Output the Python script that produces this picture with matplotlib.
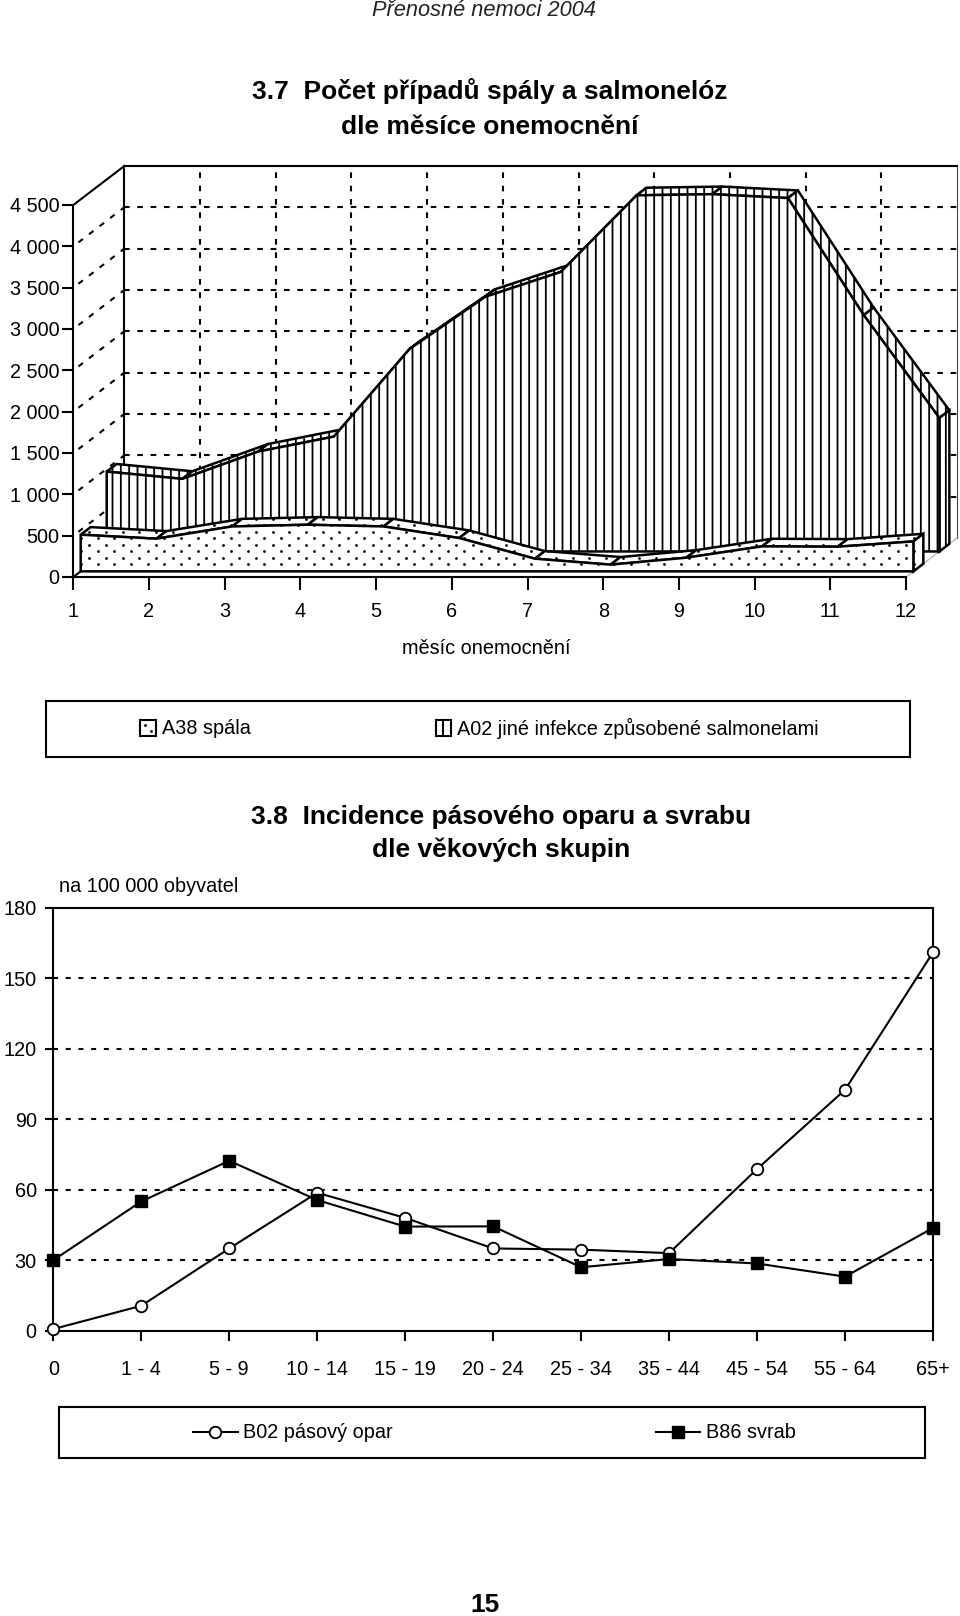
# -*- coding: utf-8 -*-
import numpy as np
import matplotlib
matplotlib.use("Agg")
import matplotlib.pyplot as plt
from matplotlib.patches import Polygon, Rectangle

plt.rcParams['font.family'] = ['Liberation Sans', 'DejaVu Sans']
plt.rcParams['hatch.linewidth'] = 1.3

W, H = 960, 1616

# 3.7 - monthly cases
months = [1, 2, 3, 4, 5, 6, 7, 8, 9, 10, 11, 12]
a38_spala = [443, 395, 543, 564, 543, 403, 153, 81, 165, 302, 298, 362]
a02_salmonely = [966, 878, 1208, 1389, 2448, 3080, 3382, 4308, 4322, 4275, 2859, 1615]
y_ticks_3d = [0, 500, 1000, 1500, 2000, 2500, 3000, 3500, 4000, 4500]

# 3.8 - incidence by age group
age_groups = ['0', '1 - 4', '5 - 9', '10 - 14', '15 - 19', '20 - 24', '25 - 34', '35 - 44', '45 - 54', '55 - 64', '65+']
b02_opar = [0.7, 10.6, 35, 58.7, 48, 35, 34.5, 33, 68.8, 102.5, 161]
b86_svrab = [30, 55, 72.3, 55.6, 44.3, 44.4, 27, 30.5, 28.6, 23, 43.7]
y_ticks_2 = [0, 30, 60, 90, 120, 150, 180]

LW = 1.5
LW_FACE = 1.8
FS = 14.3
TITLE_FS = 19


def pos(x0, x1, y0, y1):
    # pixel box -> figure fractions, y measured from the top of the page
    return [x0 / W, 1 - y1 / H, (x1 - x0) / W, (y1 - y0) / H]


fig = plt.figure(figsize=(W / 100, H / 100), dpi=100, facecolor='white')

# page level things: titles, legend boxes
page = fig.add_axes([0, 0, 1, 1])
page.set_xlim(0, W)
page.set_ylim(H, 0)
page.axis('off')

page.text(484.5, 10, 'Přenosné nemoci 2004', ha='center', va='center', style='italic', fontsize=15.7, color='#222222')
page.text(489.5, 90.5, '3.7  Počet případů spály a salmonelóz', ha='center', va='center', weight='bold', fontsize=TITLE_FS)
page.text(489.5, 127, 'dle měsíce onemocnění', ha='center', va='center', weight='bold', fontsize=TITLE_FS)
page.text(501, 817, '3.8  Incidence pásového oparu a svrabu', ha='center', va='center', weight='bold', fontsize=TITLE_FS)
page.text(501, 850, 'dle věkových skupin', ha='center', va='center', weight='bold', fontsize=TITLE_FS)
page.text(59, 887, 'na 100 000 obyvatel', ha='left', va='center', fontsize=FS)
page.text(486, 649, 'měsíc onemocnění', ha='center', va='center', fontsize=FS)
page.text(485, 1605, '15', ha='center', va='center', weight='bold', fontsize=TITLE_FS)

page.add_patch(Rectangle((45.5, 701), 864, 55.5, fc='white', ec='black', lw=LW))
page.add_patch(Rectangle((140, 720), 15.5, 15.5, fc='white', ec='black', lw=LW))
page.plot([144.5, 151], [725, 731], ls='none', marker='o', ms=2, mew=0, color='black')
page.text(162, 728, 'A38 spála', ha='left', va='center', fontsize=FS)
page.add_patch(Rectangle((435.5, 720), 15.5, 15.5, fc='white', ec='black', lw=LW))
page.plot([443.2, 443.2], [720, 735.5], color='black', lw=LW)
page.text(457, 728, 'A02 jiné infekce způsobené salmonelami', ha='left', va='center', fontsize=FS)

page.add_patch(Rectangle((59, 1407), 866, 51, fc='white', ec='black', lw=LW))
page.plot([193, 238], [1432, 1432], color='black', lw=LW, zorder=3)
page.plot([215], [1432], color='black', marker='o', ms=8.3, mfc='white', mew=1.3, zorder=4)
page.text(243, 1432, 'B02 pásový opar', ha='left', va='center', fontsize=FS)
page.plot([656, 700], [1432, 1432], color='black', lw=LW, zorder=3)
page.plot([678], [1432], color='black', marker='s', ms=9, zorder=4)
page.text(706, 1432, 'B86 svrab', ha='left', va='center', fontsize=FS)

# ---- chart 3.7, pseudo 3D ----
ax = fig.add_axes(pos(73.3, 906, 205, 577))
ax.patch.set_alpha(0)
ax.set_xlim(months[0], months[-1])
ax.set_ylim(y_ticks_3d[0], y_ticks_3d[-1])
for s in ['top', 'right']:
    ax.spines[s].set_visible(False)
for s in ['left', 'bottom']:
    ax.spines[s].set_linewidth(LW)
ax.set_xticks(months)
ax.set_yticks(y_ticks_3d)
ax.set_yticklabels([f'{v:,}'.replace(',', ' ') for v in y_ticks_3d])
ax.tick_params(axis='x', length=9, width=LW, pad=9, labelsize=FS)
ax.tick_params(axis='y', length=8, width=LW, pad=2, labelsize=FS)

# one unit of depth = shift of the back wall against the front axes
PX_X = 832.7 / 11
PX_Y = 372 / 4500
DX = 51 / PX_X
DY = 39 / PX_Y
GRID = (0, (2.7, 3.7))


def proj(x, v, d):
    return (x + d * DX, v + d * DY)


def wall(p, **kw):
    kw.setdefault('color', 'black')
    ax.plot([q[0] for q in p], [q[1] for q in p], clip_on=False, **kw)


# back wall and side wall
ymax = y_ticks_3d[-1]
xa, xb = months[0], months[-1]
wall([proj(xa, 0, 0), proj(xa, 0, 0.3)], lw=LW, zorder=1)
wall([proj(xa, 0, 1), proj(xa, ymax, 1), proj(xb, ymax, 1)], lw=LW, zorder=1)
wall([proj(xa, ymax, 0), proj(xa, ymax, 1)], lw=LW, zorder=1)
wall([proj(xb, ymax, 1), proj(xb, 0, 1)], lw=0.8, color='#444444', zorder=1)
wall([proj(xb, 0, 1), proj(xb, 0, 0)], lw=0.8, color='#aaaaaa', zorder=1)
for v in y_ticks_3d[1:-1]:
    wall([proj(xa, v, 1), proj(xb, v, 1)], lw=LW, ls=GRID, zorder=1)
    wall([proj(xa, v, 0.1), proj(xa, v, 1)], lw=LW, ls=GRID, zorder=1)
wall([proj(xa, 0, 0.3), proj(xa, 0, 1)], lw=LW, ls=GRID, zorder=1)
for m in months[1:-1]:
    wall([proj(m, 0, 1), proj(m, ymax, 1)], lw=LW, ls=GRID, zorder=1)

# dot texture of the A38 faces, 16.7 px between columns, 6.5 px between rows
dot_rows = np.arange(0, 1500, 6.5 / PX_Y)
dot_cols = np.arange(0, 13, 16.67 / PX_X)
dot_x = np.concatenate([dot_cols + (i % 2) * 8.33 / PX_X for i in range(len(dot_rows))])
dot_y = np.repeat(dot_rows, len(dot_cols))


def face(p, hatch, z):
    patch = Polygon(p, closed=True, fc='white', ec='black', lw=LW_FACE, hatch=hatch, clip_on=False, zorder=z)
    ax.add_patch(patch)
    if hatch is None:
        dots = ax.plot(dot_x, dot_y, ls='none', marker='o', ms=2, mew=0, color='black', zorder=z)[0]
        dots.set_clip_path(patch)
        dots.set_clip_box(None)


def ribbon(vals, d0, d1, hatch, z):
    # top faces first so the front face hides them where the line climbs
    for i in range(len(vals) - 1):
        face([proj(months[i], vals[i], d0), proj(months[i + 1], vals[i + 1], d0),
              proj(months[i + 1], vals[i + 1], d1), proj(months[i], vals[i], d1)], hatch, z)
    face([proj(months[-1], vals[-1], d0), proj(months[-1], vals[-1], d1),
          proj(months[-1], 0, d1), proj(months[-1], 0, d0)], hatch, z)
    front = [proj(m, v, d0) for m, v in zip(months, vals)]
    front = [proj(months[0], 0, d0)] + front + [proj(months[-1], 0, d0)]
    face(front, hatch, z + 1)


ribbon(a02_salmonely, 0.655, 0.85, '||', 3)
ribbon(a38_spala, 0.145, 0.34, None, 5)

# ---- chart 3.8 ----
ax2 = fig.add_axes(pos(53.3, 933, 907.7, 1330.7))
ax2.patch.set_alpha(0)
xs = list(range(len(age_groups)))
ax2.set_xlim(xs[0], xs[-1])
ax2.set_ylim(y_ticks_2[0], y_ticks_2[-1])
for s in ax2.spines.values():
    s.set_linewidth(LW)
ax2.set_xticks(xs)
ax2.set_xticklabels(age_groups)
ax2.set_yticks(y_ticks_2)
ax2.tick_params(axis='x', length=7, width=LW, pad=14, labelsize=FS)
ax2.tick_params(axis='y', length=6, width=LW, pad=6, labelsize=FS)
for v in y_ticks_2[1:-1]:
    ax2.axhline(v, color='black', lw=LW, ls=(0, (2.4, 3.7)), zorder=1)
ax2.plot(xs, b02_opar, color='black', lw=LW, marker='o', ms=8.3, mfc='white', mew=1.3, clip_on=False, zorder=3)
ax2.plot(xs, b86_svrab, color='black', lw=LW, marker='s', ms=9, clip_on=False, zorder=4)

fig.savefig('out.png', dpi=100, facecolor='white')
